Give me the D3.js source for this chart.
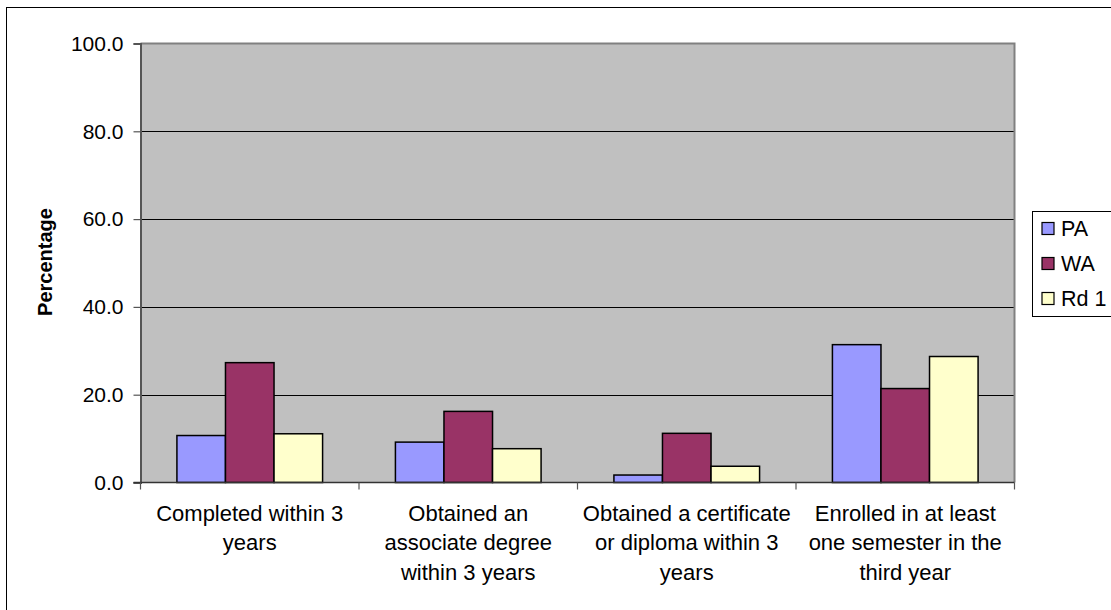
<!DOCTYPE html>
<html>
<head>
<meta charset="utf-8">
<script src="https://cdn.jsdelivr.net/npm/d3@7"></script>
<style>
  html, body { margin: 0; padding: 0; background: #fff; }
  svg { display: block; font-family: Arial, "Liberation Sans", sans-serif; }
</style>
</head>
<body>
<svg id="chart" width="1111" height="610"></svg>
<script>
// Outcome categories (each label split over lines)
const categories = [
  ["Completed within 3", "years"],
  ["Obtained an", "associate degree", "within 3 years"],
  ["Obtained a certificate", "or diploma within 3", "years"],
  ["Enrolled in at least", "one semester in the", "third year"]
];
const seriesNames = ["PA", "WA", "Rd 1"];
const seriesColors = ["#9999FF", "#993366", "#FFFFCC"];
const valuesPA  = [10.7, 9.2, 1.7, 31.4];
const valuesWA  = [27.3, 16.2, 11.2, 21.4];
const valuesRd1 = [11.1, 7.7, 3.7, 28.7];
const yTicks = [0, 20, 40, 60, 80, 100];
const yLabel = "Percentage";

const seriesValues = [valuesPA, valuesWA, valuesRd1];

const svg = d3.select("#chart");
const plot = { left: 140.5, top: 43.5, right: 1014.5, bottom: 482.5 };

// Outer chart frame (extends past the right and bottom edges)
svg.append("rect")
  .attr("x", 6.5).attr("y", 7.5)
  .attr("width", 1200).attr("height", 700)
  .attr("fill", "#fff").attr("stroke", "#000").attr("stroke-width", 1);

const x0 = d3.scaleBand()
  .domain(d3.range(categories.length))
  .range([plot.left, plot.right])
  .paddingInner(0).paddingOuter(0);

// Three bars fill 3/4.5 of each category slot
const x1 = d3.scaleBand()
  .domain(d3.range(seriesNames.length))
  .range([0, x0.bandwidth()])
  .paddingOuter(0.75).paddingInner(0);

const y = d3.scaleLinear().domain([0, 100]).range([plot.bottom, plot.top]);

// Plot background
svg.append("rect")
  .attr("x", plot.left).attr("y", plot.top)
  .attr("width", plot.right - plot.left).attr("height", plot.bottom - plot.top)
  .attr("fill", "#C0C0C0");

// Horizontal gridlines
svg.append("g")
  .selectAll("line")
  .data(yTicks.filter(t => t > 0 && t < 100))
  .join("line")
  .attr("x1", plot.left).attr("x2", plot.right)
  .attr("y1", d => Math.round(y(d)) + 0.5).attr("y2", d => Math.round(y(d)) + 0.5)
  .attr("stroke", "#000").attr("stroke-width", 1);

// Plot border on top and right
svg.append("path")
  .attr("d", `M${plot.left},${plot.top}H${plot.right}V${plot.bottom}`)
  .attr("fill", "none").attr("stroke", "#808080").attr("stroke-width", 2);

// Bars
const groups = svg.append("g")
  .selectAll("g")
  .data(categories.map((c, i) => i))
  .join("g")
  .attr("transform", i => `translate(${x0(i)},0)`);

groups.selectAll("rect")
  .data(i => seriesValues.map((vals, s) => ({ s, v: vals[i] })))
  .join("rect")
  .attr("x", d => x1(d.s))
  .attr("width", x1.bandwidth())
  .attr("y", d => y(d.v))
  .attr("height", d => y(0) - y(d.v))
  .attr("fill", d => seriesColors[d.s])
  .attr("stroke", "#000").attr("stroke-width", 1.5);

// Y axis
const yAxis = d3.axisLeft(y)
  .tickValues(yTicks)
  .tickFormat(d3.format(".1f"))
  .tickSize(7).tickPadding(10);
const yg = svg.append("g")
  .attr("transform", `translate(${plot.left},0)`)
  .call(yAxis);
yg.select(".domain").attr("stroke", "#555").attr("stroke-width", 2);
yg.selectAll(".tick line").attr("stroke", "#555").attr("stroke-width", 1.2);
yg.selectAll(".tick text")
  .attr("font-size", 21).attr("fill", "#000")
  .attr("font-family", "Arial, 'Liberation Sans', sans-serif");

// X axis baseline with category boundary ticks
const xg = svg.append("g");
xg.append("line")
  .attr("x1", plot.left - 7).attr("x2", plot.right)
  .attr("y1", plot.bottom).attr("y2", plot.bottom)
  .attr("stroke", "#333").attr("stroke-width", 1.5);
xg.selectAll("line.bt")
  .data(d3.range(categories.length + 1))
  .join("line")
  .attr("class", "bt")
  .attr("x1", i => i < categories.length ? x0(i) : plot.right)
  .attr("x2", i => i < categories.length ? x0(i) : plot.right)
  .attr("y1", plot.bottom).attr("y2", plot.bottom + 7)
  .attr("stroke", "#555").attr("stroke-width", 1.2);

// Category labels
const labels = svg.append("g")
  .selectAll("text")
  .data(categories.map((c, i) => ({ c, i })))
  .join("text")
  .attr("text-anchor", "middle")
  .attr("font-size", 22)
  .attr("fill", "#000")
  .attr("x", d => x0(d.i) + x0.bandwidth() / 2)
  .attr("y", 520.5);
labels.selectAll("tspan")
  .data(d => d.c.map((line, k) => ({ line, k, x: x0(d.i) + x0.bandwidth() / 2 })))
  .join("tspan")
  .attr("x", d => d.x)
  .attr("dy", d => d.k === 0 ? 0 : 29.5)
  .text(d => d.line);

// Y axis title
svg.append("text")
  .attr("transform", `translate(52,262) rotate(-90)`)
  .attr("text-anchor", "middle")
  .attr("font-size", 20).attr("font-weight", "bold")
  .attr("fill", "#000")
  .text(yLabel);

// Legend
const legend = svg.append("g");
legend.append("rect")
  .attr("x", 1032.5).attr("y", 211.5)
  .attr("width", 120).attr("height", 105)
  .attr("fill", "#fff").attr("stroke", "#000").attr("stroke-width", 1);
const items = legend.selectAll("g")
  .data(seriesNames.map((n, s) => ({ n, s })))
  .join("g")
  .attr("transform", d => `translate(0,${228.5 + d.s * 35})`);
items.append("rect")
  .attr("x", 1042).attr("y", -6)
  .attr("width", 12).attr("height", 12)
  .attr("fill", d => seriesColors[d.s])
  .attr("stroke", "#000").attr("stroke-width", 1.2);
items.append("text")
  .attr("x", 1061).attr("y", 7.5)
  .attr("font-size", 21.5).attr("fill", "#000")
  .text(d => d.n);
</script>
</body>
</html>
